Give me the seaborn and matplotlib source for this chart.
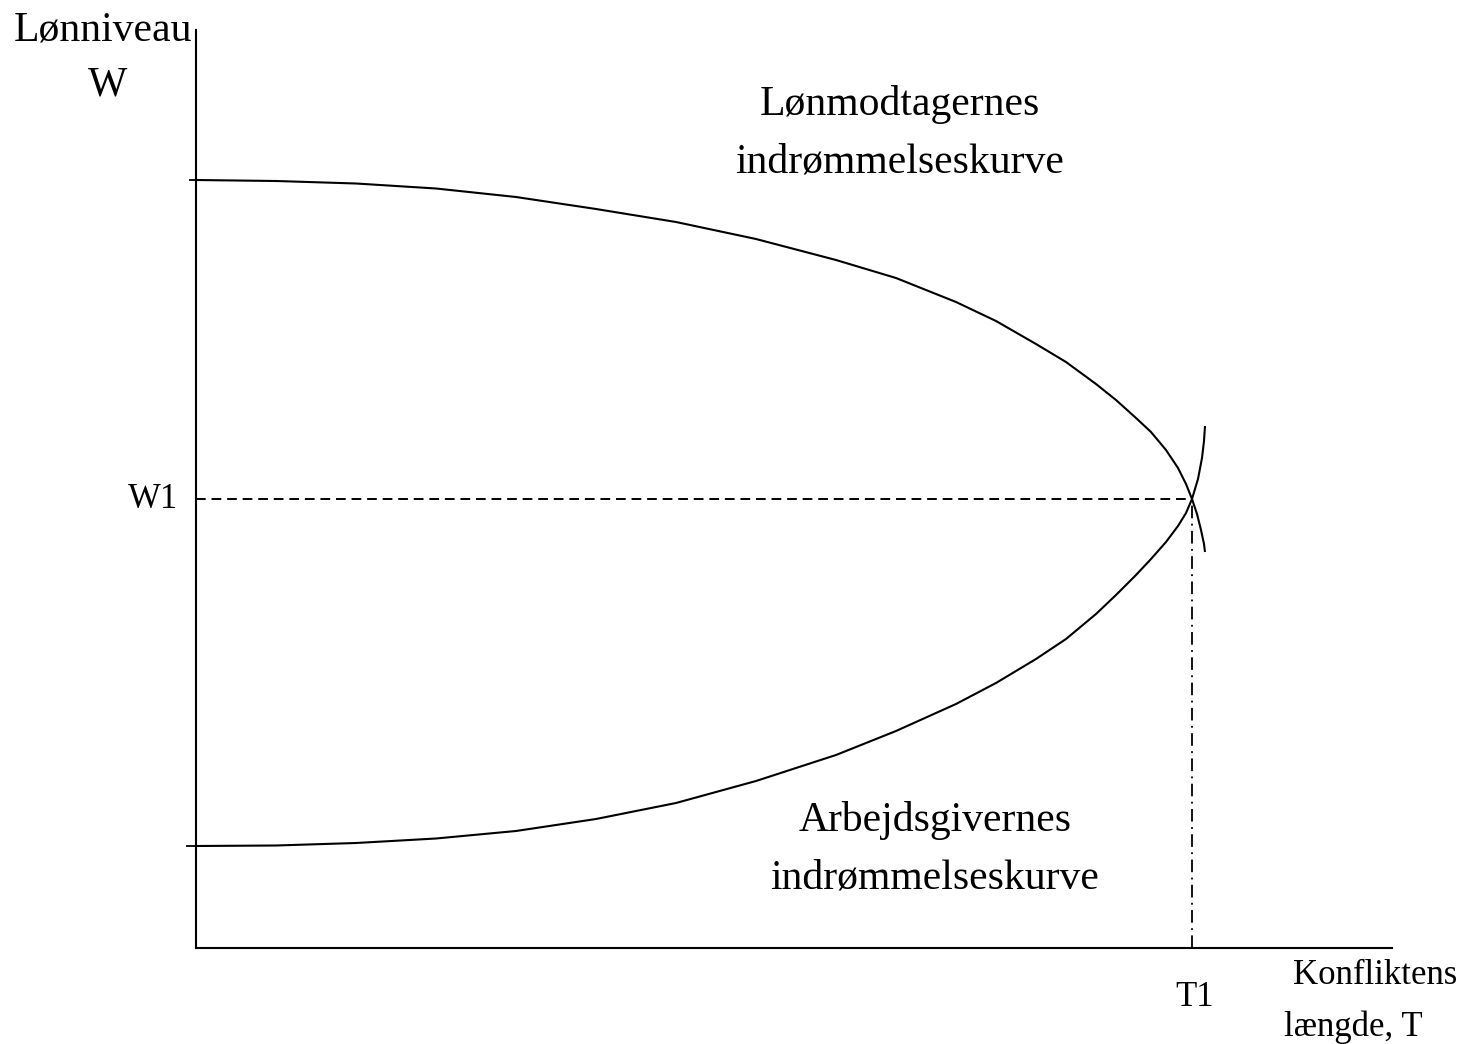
import matplotlib
matplotlib.use("Agg")
import matplotlib.pyplot as plt
import seaborn as sns
import pandas as pd

# ---- data (T = conflict length, W = wage level) ----
upper_T = [0, 8, 16, 24, 32, 40, 48, 56, 64, 70, 76, 80, 84, 87, 90, 92, 94,
           95.5, 97, 98.2, 99.0, 99.6, 100.1, 100.5, 100.8, 100.9]
upper_W = [76.8, 76.7, 76.45, 75.95, 75.1, 73.9, 72.6, 70.9, 68.8, 67.0, 64.6,
           62.7, 60.4, 58.6, 56.4, 54.8, 53.0, 51.6, 49.8, 48.0, 46.4, 44.9,
           43.4, 41.8, 40.4, 39.6]
lower_T = [0, 8, 16, 24, 32, 40, 48, 56, 64, 70, 76, 80, 84, 87, 90, 92, 94,
           95.5, 97, 98.2, 99.0, 99.6, 100.2, 100.6, 100.8, 100.9]
lower_W = [10.2, 10.25, 10.5, 10.95, 11.7, 12.9, 14.5, 16.7, 19.3, 21.7, 24.4,
           26.5, 28.9, 30.9, 33.4, 35.3, 37.3, 38.9, 40.6, 42.2, 43.5, 44.9,
           46.9, 49.0, 50.7, 52.2]
W1 = 44.9
T1 = 99.6
tick_W = [76.8, 10.2]
T_max = 119.6
W_max = 91.8

sns.set_theme(style="white")
plt.rcParams['font.family'] = ['Liberation Serif', 'DejaVu Serif']
plt.rcParams['text.color'] = 'black'

fig = plt.figure(figsize=(14.68, 10.44), dpi=100)
W_px, H_px = 1468, 1044
ax = fig.add_axes([196 / W_px, (H_px - 948) / H_px, (1392 - 196) / W_px, (948 - 30) / H_px])
ax.set_xlim(0, T_max)
ax.set_ylim(0, W_max)

df_up = pd.DataFrame({"T": upper_T, "W": upper_W})
df_lo = pd.DataFrame({"T": lower_T, "W": lower_W})
for df in (df_up, df_lo):
    sns.lineplot(data=df, x="T", y="W", sort=False, estimator=None, color="black",
                 linewidth=1.5, ax=ax, clip_on=False, solid_joinstyle="round",
                 solid_capstyle="butt")

ax.hlines(W1, 0, T1, colors="black", linewidth=1.4, linestyles=(0, (5, 3)))
ax.vlines(T1, 0, W1, colors="black", linewidth=1.3, linestyles=(0, (7, 3, 1, 3)))

for side in ["top", "right"]:
    ax.spines[side].set_visible(False)
for side in ["left", "bottom"]:
    ax.spines[side].set_color("black")
    ax.spines[side].set_linewidth(1.5)

ax.set_xticks([])
ax.set_yticks([tick_W[0]])
ax.set_yticks([tick_W[1]], minor=True)
ax.tick_params(axis="y", which="major", left=True, length=5, width=1.3, color="black",
               direction="out", labelleft=False)
ax.tick_params(axis="y", which="minor", left=True, length=7, width=1.3, color="black",
               direction="out", labelleft=False)
ax.set_xlabel("")
ax.set_ylabel("")

fs_big = 30
fs_small = 25
kw = dict(color="black", va="center")
fig.text(14 / W_px, 1 - 30 / H_px, "Lønniveau", fontsize=fs_big, ha="left", **kw)
fig.text(108 / W_px, 1 - 85 / H_px, "W", fontsize=fs_big, ha="center", **kw)
fig.text(900 / W_px, 1 - 105 / H_px, "Lønmodtagernes", fontsize=fs_big, ha="center", **kw)
fig.text(900 / W_px, 1 - 162 / H_px, "indrømmelseskurve", fontsize=fs_big, ha="center", **kw)
fig.text(935 / W_px, 1 - 820 / H_px, "Arbejdsgivernes", fontsize=fs_big, ha="center", **kw)
fig.text(935 / W_px, 1 - 878 / H_px, "indrømmelseskurve", fontsize=fs_big, ha="center", **kw)
fig.text(178 / W_px, 1 - 500 / H_px, "W1", fontsize=fs_small, ha="right", **kw)
fig.text(1195 / W_px, 1 - 998 / H_px, "T1", fontsize=fs_small, ha="center", **kw)
fig.text(1293 / W_px, 1 - 975 / H_px, "Konfliktens", fontsize=fs_small, ha="left", **kw)
fig.text(1284 / W_px, 1 - 1027 / H_px, "længde, T", fontsize=fs_small, ha="left", **kw)

fig.savefig("out.png", dpi=100, facecolor="white")
